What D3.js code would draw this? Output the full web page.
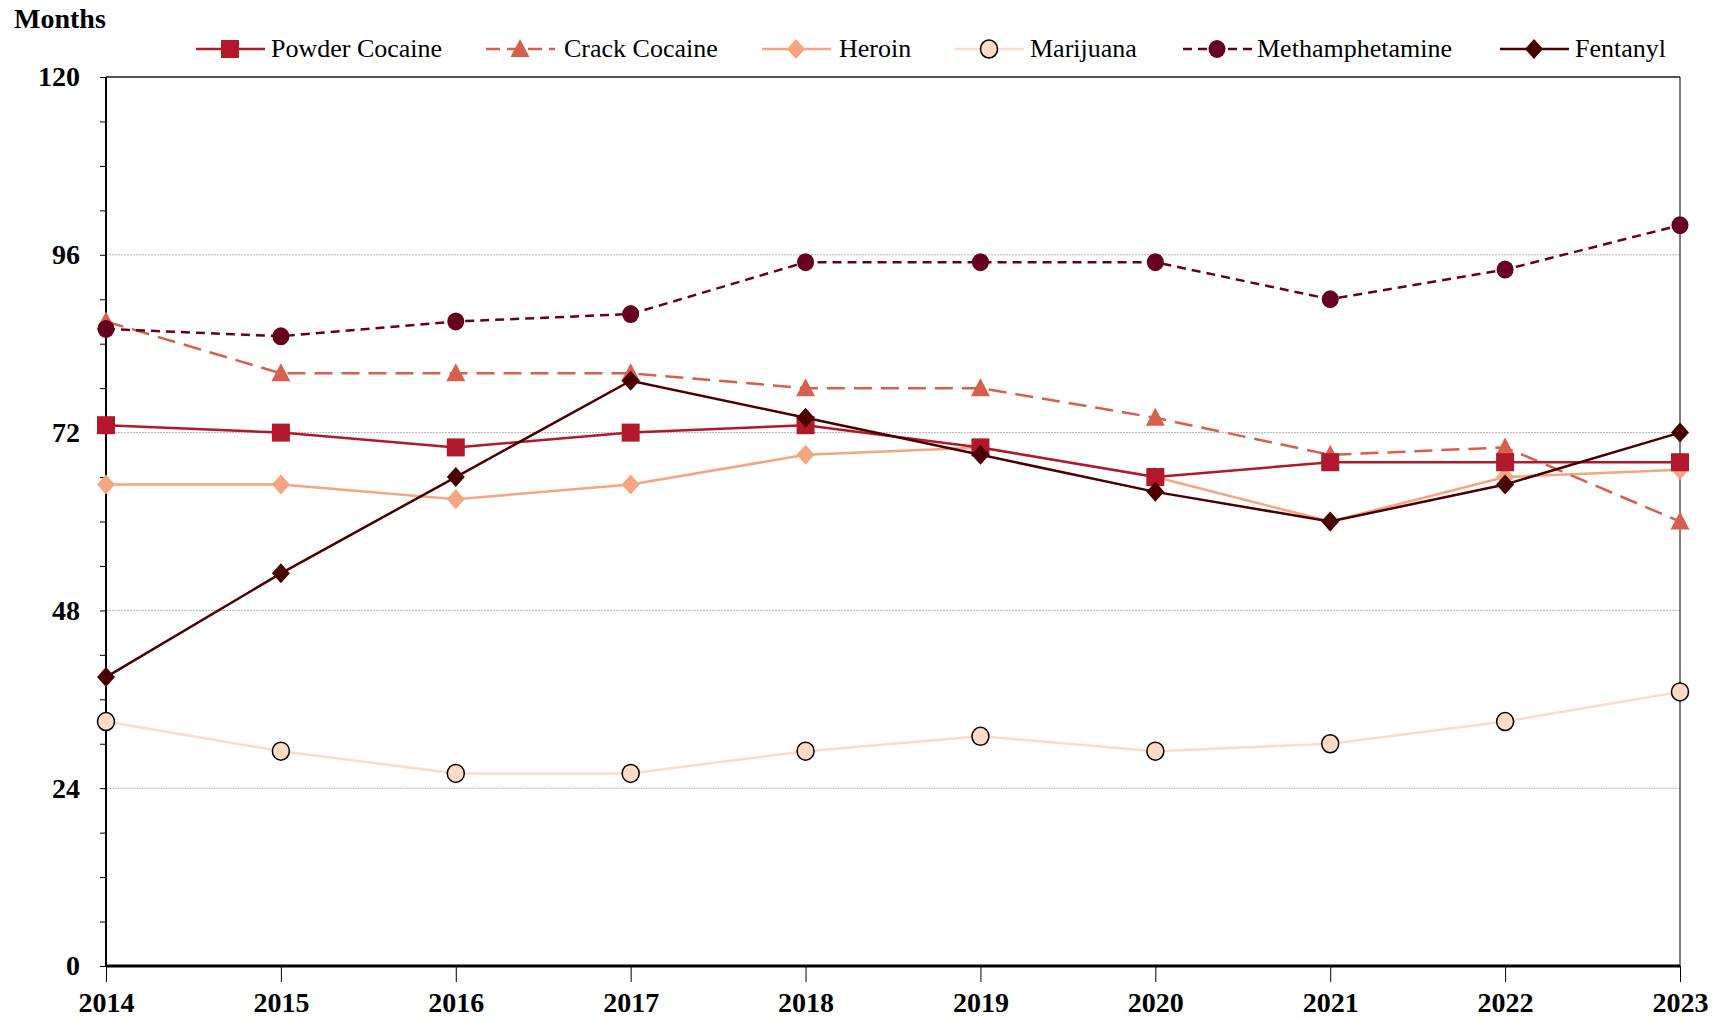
<!DOCTYPE html>
<html>
<head>
<meta charset="utf-8">
<script src="https://cdn.jsdelivr.net/npm/d3@7"></script>
<style>
  body { margin: 0; background: #fff; }
  svg { display: block; font-family: "Liberation Serif", "Times New Roman", serif; }
</style>
</head>
<body>
<svg id="chart" width="1731" height="1019"></svg>
<script>
// data (months)
var years = [2014, 2015, 2016, 2017, 2018, 2019, 2020, 2021, 2022, 2023];
var powderCocaine = [73, 72, 70, 72, 73, 70, 66, 68, 68, 68];
var crackCocaine = [87, 80, 80, 80, 78, 78, 74, 69, 70, 60];
var heroin = [65, 65, 63, 65, 69, 70, 66, 60, 66, 67];
var marijuana = [33, 29, 26, 26, 29, 31, 29, 30, 33, 37];
var methamphetamine = [86, 85, 87, 88, 95, 95, 95, 90, 94, 100];
var fentanyl = [39, 53, 66, 79, 74, 69, 64, 60, 65, 72];
var yTicks = [0, 24, 48, 72, 96, 120];

var series = [
  { name: 'Powder Cocaine', values: powderCocaine, color: '#b2182b', dash: null, marker: 'square', lx: 196, tx: 271 },
  { name: 'Crack Cocaine', values: crackCocaine, color: '#d6604d', dash: '18,9', marker: 'triangle', lx: 486, tx: 564 },
  { name: 'Heroin', values: heroin, color: '#f4a582', dash: null, marker: 'diamond', lx: 762, tx: 839 },
  { name: 'Marijuana', values: marijuana, color: '#fddbc7', dash: null, marker: 'ocircle', lx: 955, tx: 1030 },
  { name: 'Methamphetamine', values: methamphetamine, color: '#67001f', dash: '9,6', marker: 'circle', lx: 1183, tx: 1257 },
  { name: 'Fentanyl', values: fentanyl, color: '#4a0000', dash: null, marker: 'diamond', lx: 1500, tx: 1575 }
];

var svg = d3.select('#chart');
var plotLeft = 106, plotRight = 1680, plotTop = 77, plotBottom = 966;

var x = d3.scaleLinear().domain([2014, 2023]).range([plotLeft, plotRight]);
var y = d3.scaleLinear().domain([0, 120]).range([plotBottom, plotTop]);

// gridlines
svg.selectAll('.grid')
  .data([24, 48, 72, 96])
  .enter()
  .append('line')
  .attr('x1', plotLeft).attr('x2', plotRight)
  .attr('y1', function(d){ return y(d); })
  .attr('y2', function(d){ return y(d); })
  .style('stroke', '#b5b5b5')
  .style('stroke-width', 1)
  .style('stroke-dasharray', '2,1');

// top border and right border
svg.append('line').attr('x1', plotLeft).attr('x2', plotRight).attr('y1', plotTop).attr('y2', plotTop)
  .style('stroke', '#555').style('stroke-width', 2);
svg.append('line').attr('x1', plotRight).attr('x2', plotRight).attr('y1', plotTop).attr('y2', plotBottom)
  .style('stroke', '#000').style('stroke-width', 1);

// y axis
var yAxis = d3.axisLeft(y).tickValues(d3.range(0, 121, 6)).tickSize(6)
  .tickFormat(function(d){ return yTicks.indexOf(d) >= 0 ? d : ''; });
var gy = svg.append('g').attr('transform', 'translate(' + plotLeft + ',0)').call(yAxis);
gy.select('.domain').remove();
gy.selectAll('.tick line').style('stroke', '#000').style('stroke-width', 1);
gy.selectAll('.tick text')
  .attr('x', -26)
  .style('font-family', '"Liberation Serif", serif')
  .style('font-size', '28px')
  .style('font-weight', 'bold')
  .style('fill', '#000');
svg.append('line').attr('x1', plotLeft).attr('x2', plotLeft).attr('y1', plotTop).attr('y2', plotBottom)
  .style('stroke', '#000').style('stroke-width', 2);

// x axis
var xAxis = d3.axisBottom(x).tickValues(years).tickFormat(d3.format('d')).tickSize(16);
var gx = svg.append('g').attr('transform', 'translate(0,' + plotBottom + ')').call(xAxis);
gx.select('.domain').remove();
gx.selectAll('.tick line').style('stroke', '#000').style('stroke-width', 1);
gx.selectAll('.tick text')
  .attr('y', 26)
  .style('font-family', '"Liberation Serif", serif')
  .style('font-size', '28px')
  .style('font-weight', 'bold')
  .style('fill', '#000');
svg.append('line').attr('x1', plotLeft).attr('x2', plotRight).attr('y1', plotBottom).attr('y2', plotBottom)
  .style('stroke', '#000').style('stroke-width', 3);

// "Months" title
svg.append('text').attr('x', 14).attr('y', 28)
  .style('font-size', '28px').style('font-weight', 'bold').text('Months');

function drawMarker(g, s, cx, cy) {
  if (s.marker === 'square') {
    g.append('rect').attr('x', cx - 9).attr('y', cy - 9).attr('width', 18).attr('height', 18)
      .style('fill', s.color);
  } else if (s.marker === 'triangle') {
    g.append('path').attr('d', 'M' + cx + ',' + (cy - 10) + 'L' + (cx + 9.5) + ',' + (cy + 8) + 'L' + (cx - 9.5) + ',' + (cy + 8) + 'Z')
      .style('fill', s.color);
  } else if (s.marker === 'diamond') {
    g.append('path').attr('d', 'M' + cx + ',' + (cy - 10) + 'L' + (cx + 9) + ',' + cy + 'L' + cx + ',' + (cy + 10) + 'L' + (cx - 9) + ',' + cy + 'Z')
      .style('fill', s.color);
  } else if (s.marker === 'circle') {
    g.append('ellipse').attr('cx', cx).attr('cy', cy).attr('rx', 8.5).attr('ry', 9)
      .style('fill', s.color);
  } else if (s.marker === 'ocircle') {
    g.append('ellipse').attr('cx', cx).attr('cy', cy).attr('rx', 8.5).attr('ry', 9)
      .style('fill', s.color).style('stroke', '#000').style('stroke-width', 1.5);
  }
}

var line = d3.line()
  .x(function(d, i){ return x(years[i]); })
  .y(function(d){ return y(d); });

// draw in order so fentanyl sits on top
var drawOrder = [3, 2, 1, 0, 4, 5];
drawOrder.forEach(function(k){
  var s = series[k];
  var g = svg.append('g');
  g.append('path')
    .attr('d', line(s.values))
    .style('fill', 'none')
    .style('stroke', s.color)
    .style('stroke-width', 2.5)
    .style('stroke-dasharray', s.dash);
  s.values.forEach(function(v, i){ drawMarker(g, s, x(years[i]), y(v)); });
});

// legend
var ly = 49;
series.forEach(function(s){
  var g = svg.append('g');
  g.append('line').attr('x1', s.lx).attr('x2', s.lx + 69).attr('y1', ly).attr('y2', ly)
    .style('stroke', s.color).style('stroke-width', 2.5)
    .style('stroke-dasharray', s.dash ? (s.marker === 'circle' ? '9,6' : '14,7') : null);
  drawMarker(g, s, s.lx + 34, ly);
  g.append('text').attr('x', s.tx).attr('y', ly + 8)
    .style('font-size', '26px').text(s.name);
});
</script>
</body>
</html>
